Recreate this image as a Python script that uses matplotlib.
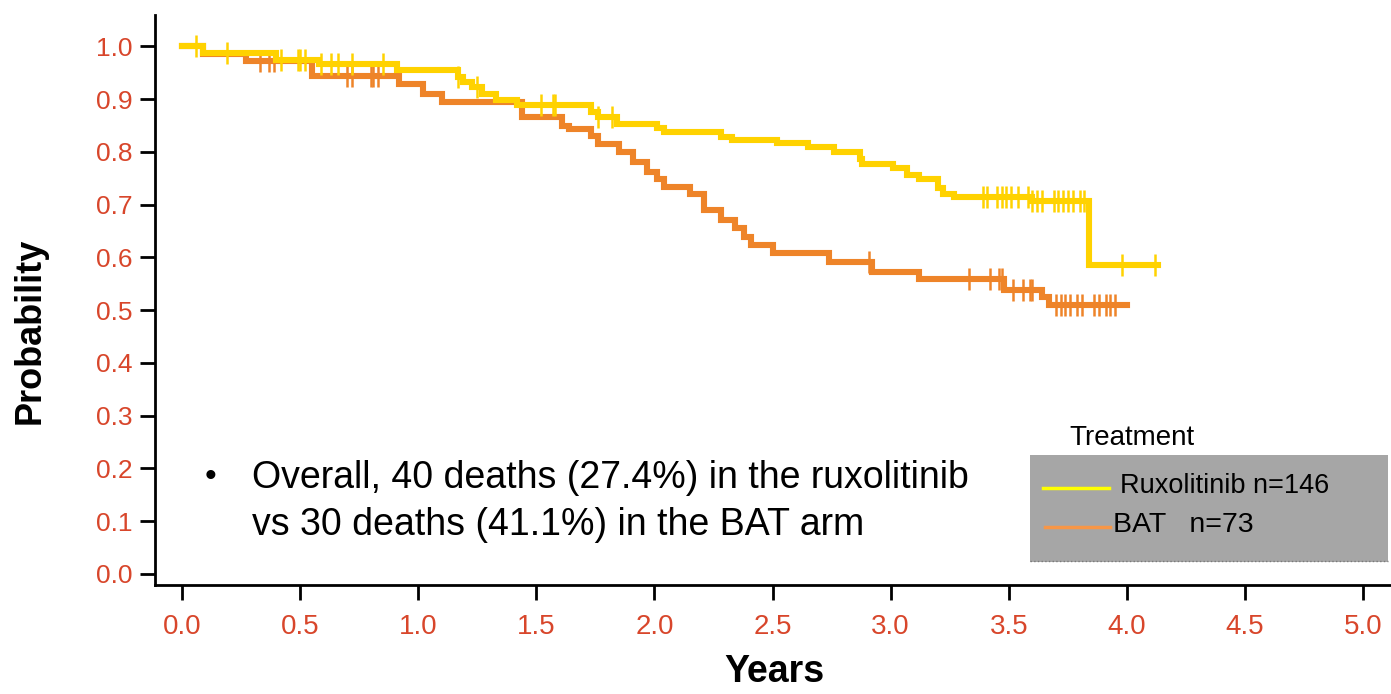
import numpy as np
import matplotlib
matplotlib.use("Agg")
import matplotlib.pyplot as plt
from matplotlib.patches import Rectangle
from matplotlib.lines import Line2D

plt.rcParams['font.family'] = ['Liberation Sans', 'DejaVu Sans']

# Kaplan-Meier steps (time in years, survival probability)
rux_t = [0, 0.09, 0.40, 0.58, 0.91, 1.17, 1.19, 1.23, 1.27, 1.33, 1.42, 1.73, 1.76, 1.84,
         2.01, 2.04, 2.28, 2.33, 2.52, 2.65, 2.76, 2.87, 2.88, 3.01, 3.07, 3.12, 3.20, 3.22,
         3.27, 3.60, 3.84, 4.13]
rux_s = [1.0, 0.988, 0.975, 0.967, 0.955, 0.942, 0.932, 0.923, 0.910, 0.898, 0.888, 0.876, 0.866, 0.853,
         0.845, 0.837, 0.828, 0.822, 0.817, 0.809, 0.800, 0.787, 0.778, 0.770, 0.756, 0.748, 0.731, 0.720,
         0.715, 0.706, 0.585, 0.585]
rux_cens = [0.06, 0.19, 0.42, 0.49, 0.50, 0.52, 0.59, 0.63, 0.66, 0.72, 0.85, 1.17, 1.25, 1.52,
            1.57, 1.58, 1.76, 1.82, 3.39, 3.41, 3.45, 3.47, 3.49, 3.51, 3.54, 3.58, 3.60, 3.62,
            3.64, 3.69, 3.71, 3.73, 3.75, 3.77, 3.80, 3.82, 3.98, 4.12]

bat_t = [0, 0.09, 0.27, 0.55, 0.92, 1.02, 1.10, 1.44, 1.61, 1.64, 1.73, 1.76, 1.85, 1.91, 1.97,
         2.01, 2.04, 2.15, 2.21, 2.28, 2.34, 2.38, 2.41, 2.50, 2.74, 2.92, 3.12, 3.48, 3.64, 3.67, 4.00]
bat_s = [1.0, 0.986, 0.973, 0.943, 0.929, 0.910, 0.895, 0.867, 0.850, 0.843, 0.831, 0.815, 0.800, 0.781, 0.762,
         0.749, 0.734, 0.721, 0.689, 0.670, 0.655, 0.639, 0.623, 0.609, 0.592, 0.573, 0.560, 0.538, 0.525, 0.510, 0.510]
bat_cens = [0.33, 0.37, 0.39, 0.70, 0.72, 0.80, 0.81, 0.83, 2.91, 3.33, 3.42, 3.46, 3.47, 3.52, 3.56,
            3.59, 3.60, 3.70, 3.72, 3.74, 3.76, 3.79, 3.81, 3.86, 3.88, 3.91, 3.93, 3.95]

xticks = [0.0, 0.5, 1.0, 1.5, 2.0, 2.5, 3.0, 3.5, 4.0, 4.5, 5.0]
yticks = [0.0, 0.1, 0.2, 0.3, 0.4, 0.5, 0.6, 0.7, 0.8, 0.9, 1.0]

rux_col = '#FFD200'
bat_col = '#EE8429'
tick_col = '#D8462B'


def surv_at(times, surv, pts):
    idx = np.searchsorted(times, pts, side='right') - 1
    return np.array(surv)[idx]


fig = plt.figure(figsize=(13.91, 6.94), dpi=100)
ax = fig.add_axes([0.1114, 0.157, 0.8886, 0.821])

ax.step(bat_t, bat_s, where='post', color=bat_col, lw=4.4, solid_joinstyle='miter')
ax.plot(bat_cens, surv_at(bat_t, bat_s, bat_cens), ls='none', marker='|', ms=16, mew=1.8, color=bat_col)
ax.step(rux_t, rux_s, where='post', color=rux_col, lw=4.4, solid_joinstyle='miter')
ax.plot(rux_cens, surv_at(rux_t, rux_s, rux_cens), ls='none', marker='|', ms=16, mew=1.8, color=rux_col)

ax.set_xlim(-0.114, 5.118)
ax.set_ylim(-0.021, 1.059)
ax.set_xticks(xticks)
ax.set_yticks(yticks)
ax.set_xticklabels([f'{v:.1f}' for v in xticks], fontsize=20, color=tick_col,
                   family=['Liberation Sans Narrow', 'Liberation Sans'])
ax.set_yticklabels([f'{v:.1f}' for v in yticks], fontsize=19, color=tick_col)
ax.tick_params(axis='both', direction='out', width=2, length=11, color='black')
ax.tick_params(axis='x', pad=10)
ax.tick_params(axis='y', pad=5)
for s in ['top', 'right']:
    ax.spines[s].set_visible(False)
for s in ['left', 'bottom']:
    ax.spines[s].set_linewidth(2)

fig.text(0.022, 0.524, 'Probability', rotation=90, fontsize=26, fontweight='bold', va='center', ha='center')
fig.text(0.557, 0.006, 'Years', fontsize=27, fontweight='bold', va='bottom', ha='center')

# annotation
ax.text(0.12, 0.182, '\u2022', fontsize=24, va='center', ha='center')
ax.text(0.296, 0.182, 'Overall, 40 deaths (27.4%) in the ruxolitinib', fontsize=27, va='center', ha='left')
ax.text(0.296, 0.093, 'vs 30 deaths (41.1%) in the BAT arm', fontsize=27, va='center', ha='left')

# legend box
fig.patches.append(Rectangle((0.7405, 0.190), 0.2574, 0.154, transform=fig.transFigure,
                             facecolor='#A6A6A6', edgecolor='none'))
fig.lines.append(Line2D([0.7405, 0.9979], [0.191, 0.191], transform=fig.transFigure,
                        color='#7A7A7A', lw=1, ls=':'))
fig.text(0.769, 0.369, 'Treatment', fontsize=20, va='center', ha='left')
fig.lines.append(Line2D([0.750, 0.797], [0.297, 0.297], transform=fig.transFigure, color='#FFFF00', lw=2.5))
fig.text(0.805, 0.300, 'Ruxolitinib n=146', fontsize=19.5, va='center', ha='left')
fig.lines.append(Line2D([0.751, 0.798], [0.241, 0.241], transform=fig.transFigure, color='#F79646', lw=2.5))
fig.text(0.800, 0.243, 'BAT   n=73', fontsize=20.5, va='center', ha='left')

fig.savefig('out.png', dpi=100)
